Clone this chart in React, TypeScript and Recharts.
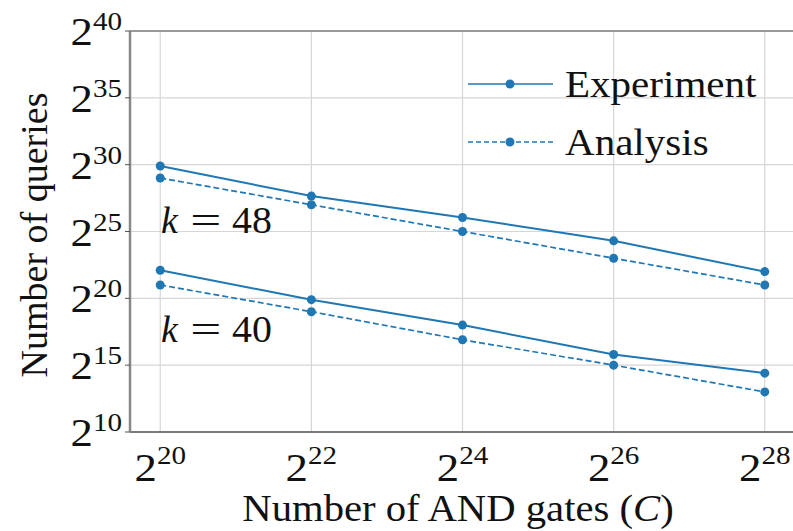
import React from "react";
import {
  LineChart, Line, XAxis, YAxis, CartesianGrid, ReferenceLine, Legend,
} from "recharts";

// log2 of AND gate count
const gates = [20, 22, 24, 26, 28];
// log2 of query counts
const exp48 = [29.9, 27.65, 26.05, 24.3, 22.0];
const ana48 = [29, 27, 25, 23, 21];
const exp40 = [22.1, 19.9, 18.0, 15.8, 14.4];
const ana40 = [21, 19, 16.9, 15, 13];

const xTicks = [20, 22, 24, 26, 28];
const yTicks = [10, 15, 20, 25, 30, 35, 40];

const data = gates.map((g, i) => ({
  g,
  exp48: exp48[i],
  ana48: ana48[i],
  exp40: exp40[i],
  ana40: ana40[i],
}));

const BLUE = "#1f77b4";
const FONT = "'Liberation Serif', 'DejaVu Serif', serif";

// power-of-two tick label, slightly widened like the original figure
const XTick = ({ x, y, payload }: any) => (
  <g transform={`translate(${x},${y + 41}) scale(1.12,1)`}>
    <text x={0} y={0} textAnchor="middle" fontFamily={FONT} fill="#111">
      <tspan fontSize={40}>2</tspan>
      <tspan fontSize={26} dy={-17}>{payload.value}</tspan>
    </text>
  </g>
);

const YTick = ({ x, y, payload }: any) => (
  <g transform={`translate(${x - 1},${y + 14}) scale(1.12,1)`}>
    <text x={0} y={0} textAnchor="end" fontFamily={FONT} fill="#111">
      <tspan fontSize={40}>2</tspan>
      <tspan fontSize={26} dy={-15}>{payload.value}</tspan>
    </text>
  </g>
);

const legendItems = [
  { label: "Experiment", dash: undefined },
  { label: "Analysis", dash: "5 3" },
];

const renderLegend = () => (
  <div style={{ fontFamily: FONT }}>
    {legendItems.map((it) => (
      <div key={it.label} style={{ display: "flex", alignItems: "center", height: 58 }}>
        <svg width={85} height={12} style={{ marginRight: 12 }}>
          <line x1={0} y1={6} x2={85} y2={6} stroke={BLUE} strokeWidth={1.6} strokeDasharray={it.dash} />
          <circle cx={42} cy={6} r={4.5} fill={BLUE} />
        </svg>
        <span style={{ fontSize: 38, color: "#111", display: "inline-block", transform: "scaleX(1.08)", transformOrigin: "left center" }}>
          {it.label}
        </span>
      </div>
    ))}
  </div>
);

const annStyle: React.CSSProperties = {
  position: "absolute",
  fontFamily: FONT,
  fontSize: 38,
  color: "#111",
  whiteSpace: "nowrap",
  display: "flex",
  alignItems: "baseline",
};

const KLabel = ({ value, top }: { value: string; top: number }) => (
  <div style={{ ...annStyle, left: 161, top }}>
    <i>k</i>
    <span style={{ display: "inline-block", margin: "0 16px 0 17px", transform: "scaleX(1.45)" }}>=</span>
    <span style={{ display: "inline-block", transform: "scaleX(1.05)", transformOrigin: "left center" }}>{value}</span>
  </div>
);

const dot = { r: 4.5, fill: BLUE, stroke: BLUE, strokeWidth: 0 };

export default function App() {
  return (
    <div style={{ position: "absolute", left: 0, top: 0, width: 793, height: 531, overflow: "hidden", background: "#fff" }}>
      <LineChart width={800} height={531} data={data} margin={{ top: 31, right: 5, left: 0, bottom: 0 }}>
        <CartesianGrid stroke="#d6d6d6" strokeWidth={1.2} />
        <XAxis
          dataKey="g"
          type="number"
          domain={[19.6, 28.4]}
          ticks={xTicks}
          height={99}
          axisLine={{ stroke: "#555", strokeWidth: 1.5 }}
          tickLine={false}
          tick={<XTick />}
          interval={0}
        />
        <YAxis
          type="number"
          domain={[10, 40]}
          ticks={yTicks}
          width={130}
          axisLine={{ stroke: "#888", strokeWidth: 2.5 }}
          tickLine={{ stroke: "#555" }}
          tickSize={5}
          tick={<YTick />}
          interval={0}
        />
        <ReferenceLine y={40} stroke="#999" strokeWidth={2} />
        <Legend
          content={renderLegend}
          layout="vertical"
          align="center"
          verticalAlign="middle"
          wrapperStyle={{ left: 468, top: 55, width: 320 }}
        />
        <Line dataKey="exp48" stroke={BLUE} strokeWidth={2} dot={dot} isAnimationActive={false} />
        <Line dataKey="ana48" stroke={BLUE} strokeWidth={1.7} strokeDasharray="6 3" dot={dot} isAnimationActive={false} />
        <Line dataKey="exp40" stroke={BLUE} strokeWidth={2} dot={dot} isAnimationActive={false} />
        <Line dataKey="ana40" stroke={BLUE} strokeWidth={1.7} strokeDasharray="6 3" dot={dot} isAnimationActive={false} />
      </LineChart>

      <KLabel value="48" top={198} />
      <KLabel value="40" top={307} />

      <div
        style={{
          position: "absolute",
          left: 34,
          top: 235,
          transform: "translate(-50%, -50%) rotate(-90deg)",
          fontFamily: FONT,
          fontSize: 38,
          color: "#111",
          whiteSpace: "nowrap",
        }}
      >
        Number of queries
      </div>
      <div
        style={{
          position: "absolute",
          left: 458,
          top: 508,
          transform: "translate(-50%, -50%) scaleX(1.07)",
          fontFamily: FONT,
          fontSize: 38,
          color: "#111",
          whiteSpace: "nowrap",
        }}
      >
        Number of AND gates (<i>C</i>)
      </div>
    </div>
  );
}
